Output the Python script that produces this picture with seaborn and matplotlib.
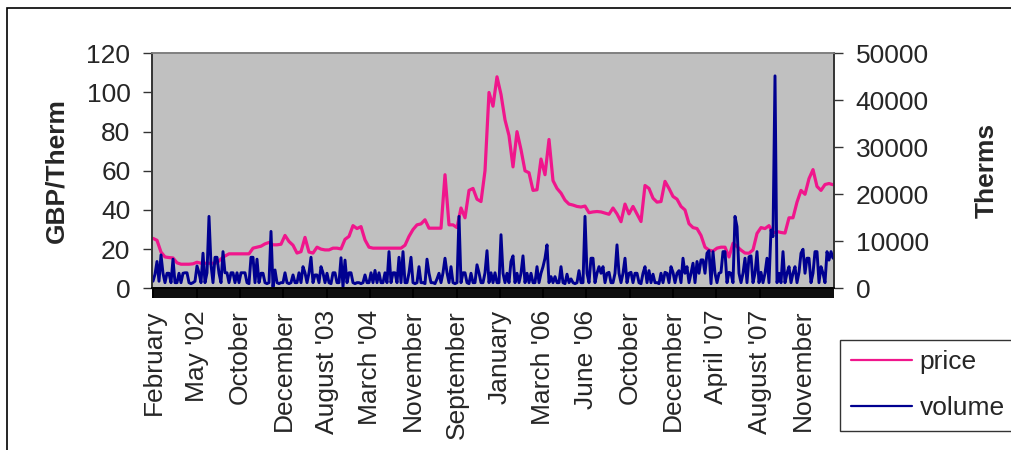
""" Gas price and traded volume, Excel-style chart redone with seaborn. """
import numpy as np
import pandas as pd
import seaborn as sns
import matplotlib.pyplot as plt
from matplotlib.patches import Rectangle

""" Values read off the picture. """
price = [25.5, 24.5, 18.5, 16, 15.7, 15.5, 13, 12.3, 12.3, 12.3, 12.5, 13.3, 12.8, 12.8, 12.8, 12.8,
         13, 15, 16.5, 17.6, 17.6, 17.6, 17.6, 17.6, 17.6, 20.5, 21, 21.5, 22.7, 23.4, 22.2, 22.2,
         22.5, 27, 23.9, 22, 18, 18.7, 26, 18.5, 18, 21, 20, 19.6, 19.6, 20.5, 20.5, 20.1,
         25, 26.5, 32, 30.5, 31.5, 24.7, 21, 20.5, 20.5, 20.5, 20.5, 20.5, 20.5, 20.5, 20.5, 22,
         26.5, 30, 32.4, 32.9, 35, 30.7, 30.7, 30.7, 30.7, 58, 32.4, 32.4, 31, 41, 36, 50,
         51, 45.5, 44.3, 60, 100, 93, 108, 99, 86, 78, 62, 80, 70.8, 60, 59, 50,
         50.3, 66, 58, 76, 55, 51, 48.6, 45, 43, 42.5, 41.8, 41.5, 42, 38.6, 39, 39.2,
         39, 38.4, 37.8, 41, 38, 34, 43, 38, 41.8, 38, 34.1, 52.5, 51, 46, 44, 44.3,
         54.6, 51, 46.9, 45.5, 41.8, 40, 33, 31, 30.5, 27, 21, 19.5, 19, 20.5, 21, 21,
         16, 23, 21.3, 19.5, 18, 17.9, 19.6, 28, 31, 30.5, 32, 28.2, 29, 28.5, 28.2, 36,
         36, 44, 50, 48, 56, 60.6, 52, 50, 53, 53.5, 52.9]

volume = [1500, 3000, 5700, 1500, 7100, 3200, 1200, 3200, 3200, 1200,
          6200, 1200, 1200, 3200, 1200, 3200, 3300, 3300, 1200, 1000,
          1200, 1500, 4750, 3300, 1200, 7470, 1200, 3300, 15300, 5000,
          1200, 6600, 6600, 3200, 1200, 7800, 3300, 3300, 1200, 3300,
          3300, 1200, 3300, 1200, 3300, 3300, 3300, 1200, 1000, 6600,
          6600, 1200, 6200, 1200, 3200, 3200, 1200, 1000, 1200, 12100,
          300, 3900, 1200, 1000, 1200, 1200, 3300, 1200, 1000, 1200,
          2840, 1200, 1200, 3300, 1200, 4600, 3300, 1200, 3300, 6600,
          1200, 2840, 2840, 1200, 4600, 3300, 1200, 3200, 1200, 1000,
          3300, 3300, 1200, 1200, 6500, 300, 6000, 1200, 3300, 3300,
          1200, 1000, 1200, 1200, 1000, 1200, 2840, 1200, 1200, 3300,
          1200, 3800, 1200, 3300, 1200, 1200, 3300, 1200, 7800, 1200,
          3300, 3300, 1200, 6600, 1200, 7800, 1200, 1200, 3300, 6600,
          1200, 1000, 1200, 4600, 1200, 1200, 1000, 6200, 3200, 1200,
          1200, 1000, 2000, 3200, 1200, 3300, 6400, 3300, 1200, 4600,
          1200, 1000, 1200, 15300, 1200, 3300, 3300, 1200, 1000, 3200,
          1200, 1200, 5000, 3300, 1200, 1200, 3300, 8000, 1200, 3300,
          1200, 3300, 1200, 1200, 11400, 3200, 1200, 3200, 1200, 5700,
          6900, 1200, 3200, 1200, 3200, 6900, 1200, 3200, 1200, 3200,
          1200, 1200, 4600, 1200, 3200, 4600, 6400, 9240, 1200, 2480,
          1200, 2480, 1200, 1200, 4600, 1200, 1000, 3000, 1200, 2000,
          1200, 1000, 1200, 3760, 1200, 1200, 15300, 3200, 1200, 6400,
          6400, 1200, 3200, 4600, 3200, 4600, 1200, 3200, 3400, 1200,
          1200, 3200, 9240, 3200, 1200, 3200, 6400, 1200, 3200, 3400,
          1200, 3200, 3200, 1200, 1000, 3200, 4600, 1200, 3760, 1200,
          3000, 1200, 1200, 1000, 3200, 1200, 3400, 3200, 1200, 4600,
          3400, 1200, 3200, 3760, 1200, 6400, 3200, 4600, 1200, 3200,
          5340, 1200, 5700, 3200, 6040, 6040, 3200, 7470, 8000, 1000,
          7800, 3200, 1200, 3200, 3400, 7800, 7800, 1200, 3400, 3200,
          1200, 15300, 13100, 3200, 1200, 3200, 6400, 1200, 6700, 6900,
          1200, 3200, 7800, 1200, 3400, 1200, 3200, 6400, 1200, 12400,
          11000, 45200, 1200, 3200, 1200, 7800, 1200, 3200, 4600, 1200,
          3200, 4600, 1200, 3400, 7470, 8300, 3200, 6400, 6400, 1200,
          3200, 7800, 7800, 1200, 4600, 3200, 1200, 7800, 6000, 7800,
          6400]

month_labels = ['February', "May '02", 'October', 'December', "August '03", "March '04",
                'November', 'September', 'January', "March '06", "June '06", 'October',
                'December', "April '07", "August '07", 'November']

vol_df = pd.DataFrame({'day': np.arange(len(volume)), 'volume': volume})
price_df = pd.DataFrame({'day': np.linspace(0, len(volume) - 1, len(price)), 'price': price})

sns.set_style('white')
plt.rcParams['font.family'] = ['Liberation Sans', 'DejaVu Sans']
plt.rcParams['xtick.bottom'] = True
plt.rcParams['ytick.left'] = True
plt.rcParams['ytick.right'] = True

W, H = 1012, 450
fig = plt.figure(figsize=(W / 100, H / 100), dpi=100)
ax = fig.add_axes([152 / W, 1 - 288.3 / H, (834 - 152) / W, (288.3 - 53.3) / H])
ax.set_facecolor('#C0C0C0')

sns.lineplot(data=price_df, x='day', y='price', ax=ax, color='#F0168C', lw=2.3, label='price', legend=False)
ax2 = ax.twinx()
sns.lineplot(data=vol_df, x='day', y='volume', ax=ax2, color='#000090', lw=2.1, label='volume', legend=False)

ax.set_xlim(-0.5, len(volume) - 0.5)
ax.set_ylim(0, 120)
ax.set_yticks(range(0, 121, 20))
ax2.set_ylim(0, 50000)
ax2.set_yticks(range(0, 50001, 10000))

""" Category-style x axis: a dense band of ticks plus rotated month labels. """
ax.set_xticks(np.arange(len(month_labels)) * 21.65 + 0.25)
ax.set_xticklabels(month_labels, rotation=90)
ax.set_xticks(np.arange(len(volume)), minor=True)
ax.xaxis.set_tick_params(which='both', bottom=True, direction='out', length=7.5, width=1.35, color='black')
ax.xaxis.set_tick_params(which='major', labelsize=19, pad=8)
for t in ax.xaxis.get_minor_ticks() + ax.xaxis.get_major_ticks():
    t.tick1line.set_visible(True)
ax.tick_params(axis='y', direction='out', length=6.5, width=1.0, color='#333333', labelsize=19, pad=9, left=True)
ax2.tick_params(axis='y', direction='out', length=6.5, width=1.0, color='#333333', labelsize=19, pad=9, right=True)

ax.set_xlabel('')
ax.set_ylabel('GBP/Therm', fontsize=19, fontweight='bold')
ax.yaxis.set_label_coords(-0.123, 0.5)
ax2.set_ylabel('Therms', fontsize=19, fontweight='bold')
ax2.yaxis.set_label_coords(1.207, 0.5)

for a in (ax, ax2):
    a.spines['top'].set_color('#808080')
    a.spines['left'].set_color('#333333')
    a.spines['right'].set_color('#333333')
    a.spines['bottom'].set_color('black')
    for s in a.spines.values():
        s.set_linewidth(1.2)

handles = ax.get_lines()[:1] + ax2.get_lines()[:1]
leg = fig.legend(handles, ['price', 'volume'], loc='upper left', bbox_to_anchor=(840 / W, 1 - 339.5 / H),
                 borderaxespad=0, fontsize=19, frameon=True, fancybox=False, edgecolor='black',
                 handlelength=2.3, handletextpad=0.3, labelspacing=0.82, borderpad=0.41)
leg.get_frame().set_linewidth(1.0)
for line in leg.get_lines():
    line.set_linewidth(1.6)

""" Outer chart frame. """
fig.patches.append(Rectangle((7 / W, -0.1), 1.2, 1.1 - 8 / H, transform=fig.transFigure,
                             fill=False, edgecolor='black', lw=1.2))

fig.savefig('out.png', dpi=100)
